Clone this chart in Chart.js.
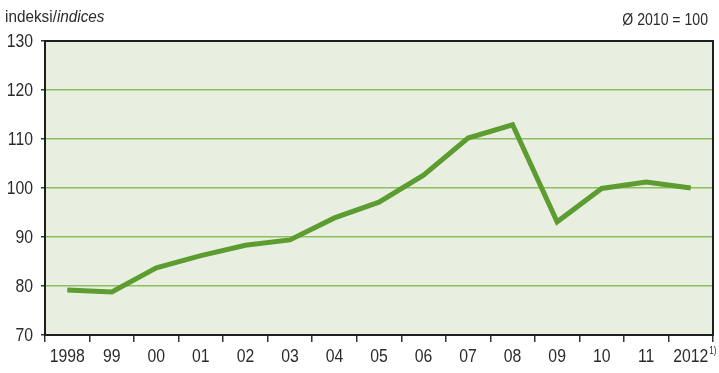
<!DOCTYPE html>
<html>
<head>
<meta charset="utf-8">
<script src="https://cdn.jsdelivr.net/npm/chart.js@4.4.0/dist/chart.umd.min.js"></script>
<style>
  html, body { margin: 0; padding: 0; background: #fff; }
  #wrap { width: 719px; height: 373px; }
</style>
</head>
<body>
<div id="wrap"><canvas id="chart" width="719" height="373"></canvas></div>
<script>
const years = ['1998', '99', '00', '01', '02', '03', '04', '05', '06', '07', '08', '09', '10', '11', '2012'];
const footnoteYear = '2012';
const indices = [79.2, 78.8, 83.7, 86.2, 88.3, 89.4, 93.9, 97.1, 102.6, 110.2, 112.9, 93.1, 99.9, 101.2, 100.0];
const yMin = 70, yMax = 130, yStep = 10;

const fontFam = '"Liberation Sans", Arial, sans-serif';
const textColor = '#2b2b2b';
const squeeze = 0.83; // kapea fontti

function narrowText(ctx, txt, x, y, align, sx) {
  ctx.save();
  ctx.translate(x, y);
  ctx.scale(sx, 1);
  ctx.textAlign = align;
  ctx.fillText(txt, 0, 0);
  ctx.restore();
}

// tausta, kehys, tekstit
const panel = {
  id: 'panel',
  beforeDraw(chart) {
    const { ctx, chartArea: a } = chart;
    ctx.save();
    ctx.fillStyle = '#e9efe0';
    ctx.fillRect(a.left, a.top, a.right - a.left, a.bottom - a.top);
    ctx.restore();
  },
  afterDraw(chart) {
    const { ctx, chartArea: a, scales } = chart;
    ctx.save();
    ctx.strokeStyle = '#1e1e1e';
    ctx.lineWidth = 2;
    ctx.strokeRect(a.left, a.top, a.right - a.left, a.bottom - a.top);

    ctx.fillStyle = textColor;
    ctx.textBaseline = 'middle';
    ctx.font = '19px ' + fontFam;
    // y-akselin luvut
    scales.y.ticks.forEach((t, i) => {
      narrowText(ctx, String(t.value), 33, scales.y.getPixelForTick(i) + 1, 'right', squeeze);
    });
    // x-akselin luvut
    years.forEach((lab, i) => {
      const x = scales.x.getPixelForTick(i);
      narrowText(ctx, lab, x, 357, 'center', squeeze);
      if (lab === footnoteYear) {
        // alaviite 1)
        const half = ctx.measureText(lab).width * squeeze / 2;
        ctx.save();
        ctx.font = '10px ' + fontFam;
        narrowText(ctx, '1)', x + half + 1, 351, 'left', 0.8);
        ctx.restore();
      }
    });

    // otsikot
    ctx.textBaseline = 'alphabetic';
    ctx.font = '17px ' + fontFam;
    const t1 = 'indeksi/';
    narrowText(ctx, t1, 5, 22, 'left', 0.9);
    const w = ctx.measureText(t1).width * 0.9;
    ctx.font = 'italic 17px ' + fontFam;
    narrowText(ctx, 'indices', 5 + w, 22, 'left', 0.9);
    ctx.font = '16px ' + fontFam;
    narrowText(ctx, 'Ø 2010 = 100', 708, 25, 'right', 0.88);
    ctx.restore();
  }
};

new Chart(document.getElementById('chart'), {
  type: 'line',
  data: {
    labels: years,
    datasets: [{
      data: indices,
      borderColor: '#5c9c30',
      borderWidth: 5,
      pointRadius: 0,
      tension: 0,
      fill: false
    }]
  },
  options: {
    responsive: false,
    animation: false,
    layout: { padding: { top: 41, right: 6, left: 0, bottom: 0 } },
    plugins: { legend: { display: false }, tooltip: { enabled: false } },
    scales: {
      x: {
        offset: true,
        border: { display: false },
        grid: { offset: true, drawOnChartArea: false, tickLength: 7, color: '#333', lineWidth: 1.5 },
        ticks: { color: 'rgba(0,0,0,0)', font: { family: fontFam, size: 18 }, padding: 2, maxRotation: 0, autoSkip: false },
        afterFit(s) { s.height = 38; }
      },
      y: {
        min: yMin,
        max: yMax,
        border: { display: false },
        grid: {
          color: (c) => (c.tick && (c.tick.value === yMin || c.tick.value === yMax)) ? 'rgba(0,0,0,0)' : '#8cbf62',
          lineWidth: 1.5,
          tickLength: 4,
          tickColor: '#333',
          drawTicks: true
        },
        ticks: { stepSize: yStep, color: 'rgba(0,0,0,0)', font: { family: fontFam, size: 18 }, padding: 6 },
        afterFit(s) { s.width = 45; }
      }
    }
  },
  plugins: [panel]
});
</script>
</body>
</html>
